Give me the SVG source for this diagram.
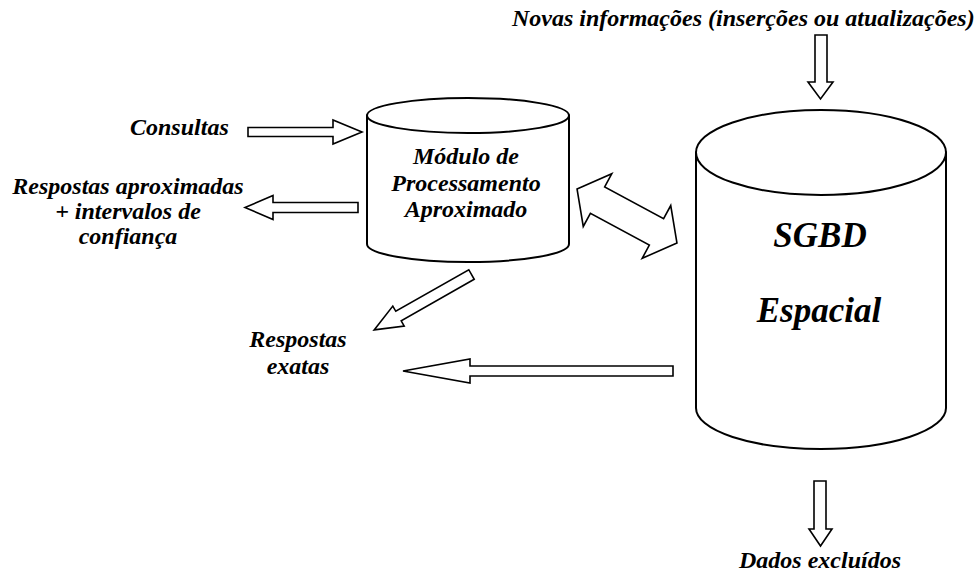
<svg xmlns="http://www.w3.org/2000/svg" width="978" height="574" viewBox="0 0 978 574">
  <style>
    .lbl { font-family: "Liberation Serif", "Times New Roman", serif; font-weight: bold; font-style: italic; font-size: 24px; fill: #000; }
    .big { font-size: 35px; }
    .cyl { fill: #fff; stroke: #000; stroke-width: 2; }
    .arr { fill: #fff; stroke: #000; stroke-width: 1.6; stroke-linejoin: miter; }
  </style>
  <rect width="978" height="574" fill="#fff"/>

  <!-- approximate processing module -->
  <g id="modulo">
    <path class="cyl" d="M367,115.5 L367,244 A101,18 0 0 0 569,244 L569,115.5 Z"/>
    <ellipse class="cyl" cx="468" cy="115.5" rx="101" ry="17.5"/>
    <text class="lbl" text-anchor="middle" x="466" y="164">Módulo de</text>
    <text class="lbl" text-anchor="middle" x="466" y="191">Processamento</text>
    <text class="lbl" text-anchor="middle" x="466" y="217">Aproximado</text>
  </g>

  <!-- spatial DBMS -->
  <g id="sgbd">
    <path class="cyl" d="M696,152.5 L696,408 A125,41 0 0 0 946,408 L946,152.5 Z"/>
    <ellipse class="cyl" cx="821" cy="152.5" rx="125" ry="42.5"/>
    <text class="lbl big" text-anchor="middle" x="820" y="247">SGBD</text>
    <text class="lbl big" text-anchor="middle" x="819" y="322">Espacial</text>
  </g>

  <!-- external labels -->
  <g id="novas"><text class="lbl" x="512" y="26">Novas informações (inserções ou atualizações)</text></g>
  <g id="consultas"><text class="lbl" x="130" y="135">Consultas</text></g>
  <g id="respostas-aprox">
    <text class="lbl" text-anchor="middle" x="128" y="194">Respostas aproximadas</text>
    <text class="lbl" text-anchor="middle" x="128" y="219">+ intervalos de</text>
    <text class="lbl" text-anchor="middle" x="128" y="244">confiança</text>
  </g>
  <g id="respostas-exatas">
    <text class="lbl" text-anchor="middle" x="298" y="347">Respostas</text>
    <text class="lbl" text-anchor="middle" x="298" y="374">exatas</text>
  </g>
  <g id="excluidos"><text class="lbl" text-anchor="middle" x="820" y="568">Dados excluídos</text></g>

  <!-- block arrows -->
  <g id="connectors">
    <polygon class="arr" points="815,35 827,35 827,82 833,82 820.5,99 808,82 815,82"/>
    <polygon class="arr" points="248,127.5 333,127.5 333,120 362,132 333,144 333,136.5 248,136.5"/>
    <polygon class="arr" points="358,202.5 273,202.5 273,195.5 245,207.5 273,219.5 273,212.5 358,212.5"/>
    <polygon class="arr" transform="translate(627,216) rotate(28.4)" points="-56.8,0 -33.5,-30 -33.5,-15 33.5,-15 33.5,-30 56.8,0 33.5,30 33.5,15 -33.5,15 -33.5,30"/>
    <polygon class="arr" transform="translate(471.5,274.5) rotate(150.35)" points="0,-5.5 84,-5.5 84,-11.5 112,0 84,11.5 84,5.5 0,5.5"/>
    <polygon class="arr" points="673,366 470,366 470,359 403,371 470,383 470,376 673,376"/>
    <polygon class="arr" points="814,481 826,481 826,529 832,529 820.5,546 809,529 814,529"/>
  </g>
</svg>
